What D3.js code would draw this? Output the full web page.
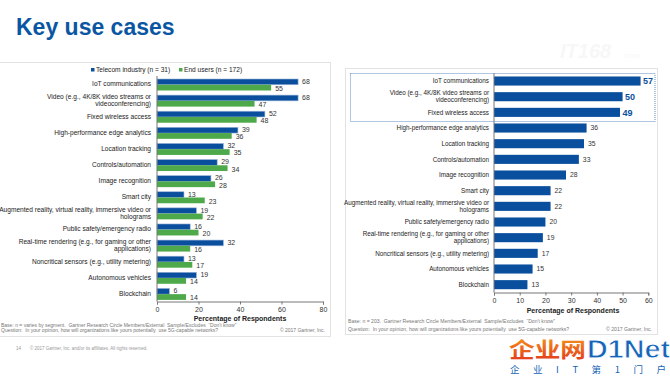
<!DOCTYPE html>
<html>
<head>
<meta charset="utf-8">
<script src="https://cdn.jsdelivr.net/npm/d3@7"></script>
<style>
  body { margin: 0; background: #fff; }
  svg { display: block; font-family: "Liberation Sans", Arial, sans-serif; }
</style>
</head>
<body>
<svg id="chart" width="670" height="376"></svg>
<script>
// 用例类别（两个图共用）
var categories = [
    ["IoT communications"],
    ["Video (e.g., 4K/8K video streams or", "videoconferencing)"],
    ["Fixed wireless access"],
    ["High-performance edge analytics"],
    ["Location tracking"],
    ["Controls/automation"],
    ["Image recognition"],
    ["Smart city"],
    ["Augmented reality, virtual reality, immersive video or", "holograms"],
    ["Public safety/emergency radio"],
    ["Real-time rendering (e.g., for gaming or other", "applications)"],
    ["Noncritical sensors (e.g., utility metering)"],
    ["Autonomous vehicles"],
    ["Blockchain"]
];
// 左图：两个系列
var seriesNames = ["Telecom industry (n = 31)", "End users (n = 172)"];
var telecomValues = [68, 68, 52, 39, 32, 29, 26, 13, 19, 16, 32, 13, 19, 6];
var endUserValues = [55, 47, 48, 36, 35, 34, 28, 23, 22, 20, 16, 17, 14, 14];
var leftTicks = [0, 20, 40, 60, 80];
// 右图：总体
var totalValues = [57, 50, 49, 36, 35, 33, 28, 22, 22, 20, 19, 17, 15, 13];
var rightTicks = [0, 10, 20, 30, 40, 50, 60];

var BLUE = "#0a4f9e", GREEN = "#4ea94a";

var svg = d3.select("#chart");

// 标题
svg.append("text").attr("x", 16).attr("y", 35)
    .attr("font-size", 23).attr("font-weight", "bold").attr("fill", "#0b56a3")
    .text("Key use cases");

// 水印（很淡）
svg.append("text").attr("x", 560).attr("y", 58)
    .attr("font-size", 20).attr("font-style", "italic").attr("font-weight", "bold")
    .attr("fill", "#f7f7f7").text("IT168");
svg.append("text").attr("x", 622).attr("y", 58)
    .attr("font-size", 8).attr("font-style", "italic")
    .attr("fill", "#f7f7f7").text(".com");

// 面板边框
svg.append("rect").attr("x", -1).attr("y", 62.5).attr("width", 331.5).attr("height", 274)
    .attr("fill", "none").attr("stroke", "#e2e2e2");
svg.append("rect").attr("x", 345.5).attr("y", 68.5).attr("width", 312).attr("height", 266)
    .attr("fill", "none").attr("stroke", "#e2e2e2");

var keys = categories.map(function (d, i) { return i; });

// 绘制类别标签（支持两行）
function drawLabels(g, y, xRight, size) {
    var t = g.append("g").selectAll("text").data(categories).enter().append("text")
        .attr("text-anchor", "end")
        .attr("font-size", size)
        .attr("fill", "#222")
        .attr("transform", function (d, i) {
            var off = d.length > 1 ? -size * 0.55 : 0;
            return "translate(" + xRight + "," + (y(i) + y.bandwidth() / 2 + off) + ")";
        });
    t.selectAll("tspan").data(function (d) { return d; }).enter().append("tspan")
        .attr("x", 0)
        .attr("dy", function (d, j) { return j == 0 ? "0.35em" : "1.1em"; })
        .text(function (d) { return d; });
}

// 坐标轴
function drawAxis(g, x, y, ticks) {
    var r = y.range();
    var ax = g.append("g").attr("transform", "translate(0," + r[1] + ")")
        .call(d3.axisBottom(x).tickValues(ticks).tickSize(3).tickSizeOuter(3));
    ax.select(".domain").attr("stroke", "#777");
    ax.selectAll(".tick line").attr("stroke", "#777");
    ax.selectAll(".tick text").attr("font-size", 7).attr("fill", "#333")
        .attr("font-family", "Liberation Sans, Arial, sans-serif");
    g.append("line").attr("x1", x(0)).attr("x2", x(0)).attr("y1", r[0]).attr("y2", r[1])
        .attr("stroke", "#777");
}

/*-------- 左图 --------*/
var L = svg.append("g");
var xL = d3.scaleLinear().domain([0, 80]).range([157, 323]);
var yL = d3.scaleBand().domain(keys).range([76, 301.5]);
var ySub = d3.scaleBand().domain([0, 1]).range([3, 14.5]);

// 图例
var lg = L.append("g").attr("transform", "translate(91,70)");
seriesNames.forEach(function (n, i) {
    var ox = i == 0 ? 0 : 88;
    lg.append("rect").attr("x", ox).attr("y", -2).attr("width", 3.5).attr("height", 3.5)
        .attr("fill", i == 0 ? BLUE : GREEN);
    lg.append("text").attr("x", ox + 5).attr("y", 0).attr("dy", "0.35em")
        .attr("font-size", 6.6).attr("fill", "#222").text(n);
});

drawLabels(L, yL, 151, 6.6);

var rowsL = L.append("g").selectAll("g").data(keys).enter().append("g")
    .attr("transform", function (i) { return "translate(0," + yL(i) + ")"; });
rowsL.append("rect")
    .attr("x", xL(0)).attr("y", ySub(0))
    .attr("width", function (i) { return xL(telecomValues[i]) - xL(0); })
    .attr("height", ySub.bandwidth()).attr("fill", BLUE)
    .attr("stroke", "#9db5d8").attr("stroke-width", 0.6);
rowsL.append("rect")
    .attr("x", xL(0)).attr("y", ySub(1))
    .attr("width", function (i) { return xL(endUserValues[i]) - xL(0); })
    .attr("height", ySub.bandwidth()).attr("fill", GREEN);
rowsL.append("text")
    .attr("x", function (i) { return xL(telecomValues[i]) + 4; })
    .attr("y", ySub(0) + ySub.bandwidth() / 2 - 0.5).attr("dy", "0.35em")
    .attr("font-size", 7).attr("fill", "#333")
    .text(function (i) { return telecomValues[i]; });
rowsL.append("text")
    .attr("x", function (i) { return xL(endUserValues[i]) + 4; })
    .attr("y", ySub(1) + ySub.bandwidth() / 2 + 1).attr("dy", "0.35em")
    .attr("font-size", 7).attr("fill", "#333")
    .text(function (i) { return endUserValues[i]; });

drawAxis(L, xL, yL, leftTicks);
L.append("text").attr("x", 240).attr("y", 321).attr("text-anchor", "middle")
    .attr("font-size", 7).attr("font-weight", "bold").attr("fill", "#222")
    .text("Percentage of Respondents");

// 左图脚注
L.append("text").attr("x", 1).attr("y", 326.8).attr("font-size", 5).attr("fill", "#777")
    .attr("xml:space", "preserve")
    .text("Base: n = varies by segment.  Gartner Research Circle Members/External  Sample/Excludes  \u201cDon't know\u201d");
L.append("text").attr("x", 1).attr("y", 332).attr("font-size", 5).attr("fill", "#777")
    .attr("xml:space", "preserve")
    .text("Question:  In your opinion, how will organizations like yours potentially  use 5G-capable networks?");
L.append("text").attr("x", 325).attr("y", 332).attr("text-anchor", "end")
    .attr("font-size", 5).attr("fill", "#777").text("\u00a9 2017 Gartner, Inc.");

svg.append("text").attr("x", 16).attr("y", 349.5).attr("font-size", 4.5).attr("fill", "#999").text("14");
svg.append("text").attr("x", 30).attr("y", 349.5).attr("font-size", 4.5).attr("fill", "#999")
    .text("\u00a9 2017 Gartner, Inc. and/or its affiliates. All rights reserved.");

/*-------- 右图 --------*/
var R = svg.append("g");
var xR = d3.scaleLinear().domain([0, 60]).range([494, 648.3]);
var yR = d3.scaleBand().domain(keys).range([73.2, 292.5]).paddingInner(0.42).paddingOuter(0.21);

// 前三项的虚线框
R.append("rect").attr("x", 350.5).attr("y", 73.5).attr("width", 304.5).attr("height", 48)
    .attr("fill", "none").attr("stroke", "#3a6fb0").attr("stroke-width", 0.8)
    .attr("stroke-dasharray", "1,1");

var yRl = d3.scaleBand().domain(keys).range([73.2, 292.5]);
drawLabels(R, yRl, 489, 6.3);

R.append("g").selectAll("rect").data(keys).enter().append("rect")
    .attr("x", xR(0))
    .attr("y", function (i) { return yR(i); })
    .attr("width", function (i) { return xR(totalValues[i]) - xR(0); })
    .attr("height", yR.bandwidth())
    .attr("fill", BLUE);
R.append("g").selectAll("text").data(keys).enter().append("text")
    .attr("x", function (i) { return xR(totalValues[i]) + (i < 3 ? 2.5 : 4); })
    .attr("y", function (i) { return yR(i) + yR.bandwidth() / 2; })
    .attr("dy", "0.35em")
    .attr("font-size", function (i) { return i < 3 ? 9 : 6.8; })
    .attr("font-weight", function (i) { return i < 3 ? "bold" : "normal"; })
    .attr("fill", function (i) { return i < 3 ? "#0b4f9c" : "#333"; })
    .text(function (i) { return totalValues[i]; });

drawAxis(R, xR, yRl, rightTicks);
R.append("text").attr("x", 573).attr("y", 313).attr("text-anchor", "middle")
    .attr("font-size", 7).attr("font-weight", "bold").attr("fill", "#222")
    .text("Percentage of Respondents");

// 右图脚注
R.append("text").attr("x", 348).attr("y", 322.5).attr("font-size", 5.1).attr("fill", "#777")
    .attr("xml:space", "preserve")
    .text("Base: n = 203.  Gartner Research Circle Members/External  Sample/Excludes  \u201cDon't know\u201d");
R.append("text").attr("x", 348).attr("y", 330.5).attr("font-size", 5.1).attr("fill", "#777")
    .attr("xml:space", "preserve")
    .text("Question:  In your opinion, how will organizations like yours potentially  use 5G-capable networks?");
R.append("text").attr("x", 652).attr("y", 330.5).attr("text-anchor", "end")
    .attr("font-size", 5.1).attr("fill", "#777").text("\u00a9 2017 Gartner, Inc.");

/*-------- 右下角标志 --------*/
var defs = svg.append("defs");
var grad = defs.append("linearGradient").attr("id", "orangeG")
    .attr("x1", 0).attr("y1", 0).attr("x2", 0).attr("y2", 1);
grad.append("stop").attr("offset", "0%").attr("stop-color", "#f7a11a");
grad.append("stop").attr("offset", "100%").attr("stop-color", "#e2321b");
var logo = svg.append("g");
logo.append("text").attr("x", 509).attr("y", 357)
    .attr("font-family", "Noto Sans CJK SC").attr("font-weight", "bold")
    .attr("font-size", 21).attr("fill", "url(#orangeG)").attr("textLength", 77)
    .attr("lengthAdjust", "spacingAndGlyphs")
    .text("企业网");
logo.append("text").attr("x", 587).attr("y", 357.5)
    .attr("font-family", "Liberation Sans, Arial").attr("font-weight", "bold")
    .attr("font-size", 25).attr("fill", "#1565b8").attr("stroke", "#fff").attr("stroke-width", 0.8)
    .attr("textLength", 83).attr("lengthAdjust", "spacingAndGlyphs").text("D1Net");
logo.append("text").attr("x", 510).attr("y", 372.5)
    .attr("font-family", "Noto Sans CJK SC").attr("font-size", 9.5)
    .attr("fill", "#1565b8").attr("textLength", 156)
    .text("企 业 I T 第 1 门 户");
</script>
</body>
</html>
